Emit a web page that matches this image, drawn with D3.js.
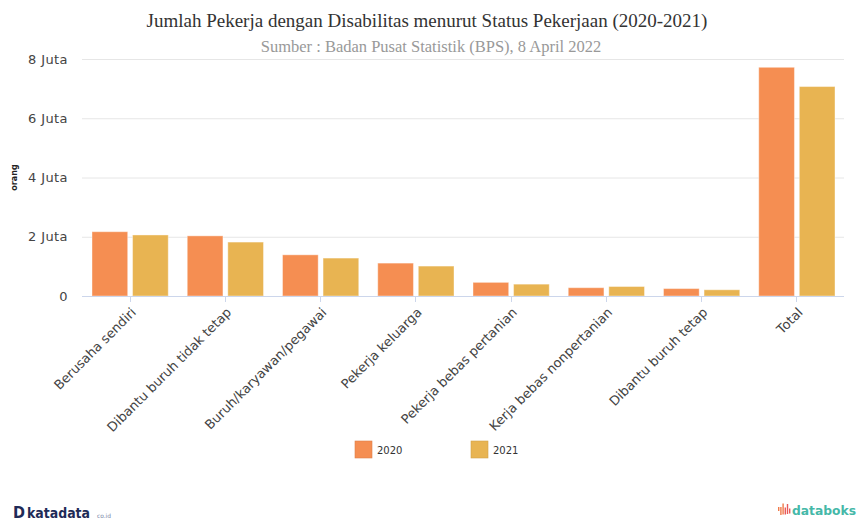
<!DOCTYPE html>
<html>
<head>
<meta charset="utf-8">
<script src="https://cdn.jsdelivr.net/npm/d3@7"></script>
<style>
  body { margin: 0; background: #fff; }
  svg { display: block; }
</style>
</head>
<body>
<div id="chart"></div>
<script>
// data (in people)
const categories = ["Berusaha sendiri", "Dibantu buruh tidak tetap", "Buruh/karyawan/pegawai",
  "Pekerja keluarga", "Pekerja bebas pertanian", "Kerja bebas nonpertanian", "Dibantu buruh tetap", "Total"];
const seriesNames = ["2020", "2021"];
const values2020 = [2170000, 2030000, 1390000, 1110000, 460000, 280000, 250000, 7720000];
const values2021 = [2060000, 1820000, 1280000, 1010000, 400000, 320000, 210000, 7070000];
const yTicks = [0, 2000000, 4000000, 6000000, 8000000];

const W = 862, H = 522;
const margin = {top: 59, right: 18, bottom: 226, left: 82};
const colors = {"2020": "#f58e52", "2021": "#e8b452"};

const svg = d3.select("#chart").append("svg")
  .attr("width", W).attr("height", H)
  .style("font-family", "'DejaVu Sans', Verdana, sans-serif");

// title + source
svg.append("text")
  .attr("x", 427).attr("y", 27)
  .attr("text-anchor", "middle")
  .style("font-family", "'Liberation Serif', 'Times New Roman', serif")
  .style("font-size", "19px").style("fill", "#333")
  .text("Jumlah Pekerja dengan Disabilitas menurut Status Pekerjaan (2020-2021)");
svg.append("text")
  .attr("x", 431).attr("y", 52)
  .attr("text-anchor", "middle")
  .style("font-family", "'Liberation Serif', 'Times New Roman', serif")
  .style("font-size", "16.5px").style("fill", "#999")
  .text("Sumber : Badan Pusat Statistik (BPS), 8 April 2022");

const x0 = d3.scaleBand()
  .domain(categories)
  .range([margin.left, W - margin.right]);

const x1 = d3.scaleBand()
  .domain(seriesNames)
  .range([10, x0.bandwidth() - 9])
  .paddingInner(0.12);

const y = d3.scaleLinear()
  .domain([0, 8000000])
  .range([H - margin.bottom, margin.top]);

const fmt = v => v === 0 ? "0" : (v / 1e6) + " Juta";

// gridlines
svg.append("g")
  .selectAll("line")
  .data(yTicks.filter(d => d > 0))
  .join("line")
  .attr("x1", margin.left).attr("x2", W - margin.right)
  .attr("y1", d => y(d) + 0.5).attr("y2", d => y(d) + 0.5)
  .attr("stroke", "#e6e6e6");

// y axis labels
svg.append("g")
  .selectAll("text")
  .data(yTicks)
  .join("text")
  .attr("x", 68).attr("y", d => y(d))
  .attr("dy", "0.35em")
  .attr("text-anchor", "end")
  .style("font-size", "13px").style("letter-spacing", "0.4px").style("fill", "#444")
  .text(fmt);

svg.append("text")
  .attr("transform", `translate(17, ${y(4000000)}) rotate(-90)`)
  .attr("text-anchor", "middle")
  .style("font-size", "8px").style("font-weight", "bold").style("fill", "#222")
  .text("orang");

// bars
const groups = svg.append("g")
  .selectAll("g")
  .data(categories)
  .join("g")
  .attr("transform", d => `translate(${x0(d)},0)`);

groups.selectAll("rect")
  .data((d, i) => [{key: "2020", value: values2020[i]}, {key: "2021", value: values2021[i]}])
  .join("rect")
  .attr("x", d => x1(d.key))
  .attr("width", x1.bandwidth())
  .attr("y", d => y(d.value))
  .attr("height", d => y(0) - y(d.value))
  .attr("fill", d => colors[d.key])
  .attr("stroke", "#fff")
  .attr("stroke-opacity", 0.4)
  .attr("stroke-width", 1);

// x axis line + ticks
const base = y(0);
svg.append("line")
  .attr("x1", margin.left).attr("x2", W - margin.right)
  .attr("y1", base + 0.5).attr("y2", base + 0.5)
  .attr("stroke", "#ccd6eb");
svg.append("g")
  .selectAll("line")
  .data(categories)
  .join("line")
  .attr("x1", d => Math.round(x0(d) + x0.bandwidth() / 2) + 0.5)
  .attr("x2", d => Math.round(x0(d) + x0.bandwidth() / 2) + 0.5)
  .attr("y1", base).attr("y2", base + 6)
  .attr("stroke", "#ccd6eb");

svg.append("g")
  .selectAll("text")
  .data(categories)
  .join("text")
  .attr("transform", d => `translate(${x0(d) + x0.bandwidth() / 2 + 4}, ${base + 14}) rotate(-45)`)
  .attr("text-anchor", "end")
  .attr("dy", "0.35em")
  .style("font-size", "13px").style("fill", "#444")
  .text(d => d);

// legend
const legend = svg.append("g")
  .selectAll("g")
  .data(seriesNames)
  .join("g")
  .attr("transform", (d, i) => `translate(${355 + i * 116}, 441)`);
legend.append("rect")
  .attr("width", 17).attr("height", 17)
  .attr("fill", d => colors[d])
  .attr("stroke", d => d3.color(colors[d]).darker(0.3))
  .attr("stroke-width", 0.6);
legend.append("text")
  .attr("x", 22).attr("y", 9)
  .attr("dy", "0.35em")
  .style("font-size", "10px").style("fill", "#333")
  .text(d => d);

// logos (text)
svg.append("text")
  .attr("x", 13).attr("y", 518)
  .attr("textLength", 12).attr("lengthAdjust", "spacingAndGlyphs")
  .style("font-size", "15px").style("font-weight", "bold").style("fill", "#1f2b57")
  .text("D");
svg.append("text")
  .attr("x", 27).attr("y", 518)
  .attr("textLength", 63).attr("lengthAdjust", "spacingAndGlyphs")
  .style("font-size", "14px").style("font-weight", "bold").style("fill", "#1f2b57")
  .text("katadata");
svg.append("text")
  .attr("x", 97).attr("y", 518)
  .attr("textLength", 14).attr("lengthAdjust", "spacingAndGlyphs")
  .style("font-size", "6px").style("fill", "#7a86a8")
  .text("co.id");

// databoks icon bars
const iconH = [4, 8, 11, 7, 10, 5];
svg.append("g")
  .selectAll("rect")
  .data(iconH)
  .join("rect")
  .attr("x", (d, i) => 778 + i * 2.2)
  .attr("y", (d, i) => 509 - d / 2 + (i % 2 ? 2 : 0))
  .attr("width", 1.4)
  .attr("height", d => d)
  .attr("fill", (d, i) => i < 3 ? "#f07a4a" : "#e85a5a");
svg.append("text")
  .attr("x", 792).attr("y", 515)
  .attr("textLength", 64).attr("lengthAdjust", "spacingAndGlyphs")
  .style("font-size", "13px").style("font-weight", "bold")
  .style("fill", "#45b8a8")
  .text("databoks");
</script>
</body>
</html>
